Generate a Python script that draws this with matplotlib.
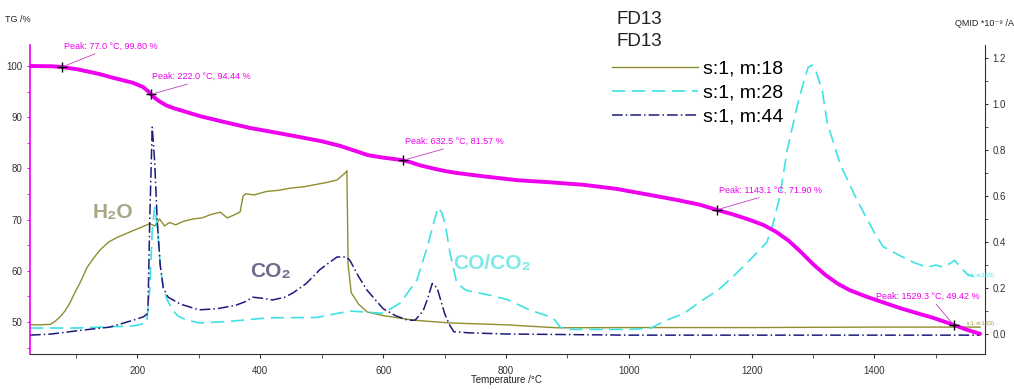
import matplotlib
matplotlib.use("Agg")
import matplotlib.pyplot as plt
from matplotlib.ticker import MultipleLocator

plt.rcParams['font.family'] = ['Liberation Sans', 'DejaVu Sans']

# TG curve (left axis, %)
tg_T = [25, 60, 77, 100, 120, 139, 160, 180, 193, 209, 218, 222, 230, 237, 247, 258, 280, 302, 340,
        383, 425, 465, 500, 530, 555, 575, 600, 620, 632.5, 645, 660, 681, 700, 720, 760, 818, 870,
        926, 980, 1035, 1080, 1116, 1143.1, 1170, 1198, 1220, 1240, 1260, 1280, 1300, 1320, 1340,
        1360, 1388, 1415, 1442, 1470, 1496, 1529.3, 1550, 1572]
tg_v = [100.0, 99.95, 99.8, 99.4, 98.9, 98.4, 97.7, 97.1, 96.7, 95.9, 95.0, 94.44, 93.6, 93.0, 92.3,
        91.8, 91.0, 90.2, 89.1, 87.9, 87.0, 86.1, 85.3, 84.4, 83.4, 82.6, 82.1, 81.8, 81.57, 81.2,
        80.6, 80.0, 79.5, 79.1, 78.5, 77.7, 77.3, 76.8, 76.0, 74.8, 73.8, 72.9, 71.9, 71.0, 69.9,
        68.9, 67.6, 65.9, 63.7, 61.3, 59.2, 57.5, 56.2, 54.9, 53.8, 52.7, 51.7, 50.8, 49.42, 48.5,
        47.7]

# peak markers
peak_T = [77.0, 222.0, 632.5, 1143.1, 1529.3]
peak_v = [99.80, 94.44, 81.57, 71.90, 49.42]

# MS ion currents (right axis)
m18_T = [25, 40, 58, 66, 74, 82, 90, 98, 106, 118, 130, 139, 153, 167, 180, 193, 207, 220, 228, 236,
         244, 252, 262, 275, 290, 305, 320, 335, 346, 355, 367, 372, 376, 390, 410, 430, 450, 470,
         490, 510, 525, 538, 541, 543, 548, 560, 574, 600, 650, 709, 800, 883, 1000, 1200, 1400, 1572]
m18_v = [0.04, 0.04, 0.042, 0.055, 0.075, 0.10, 0.135, 0.18, 0.22, 0.29, 0.335, 0.365, 0.40, 0.42,
         0.435, 0.45, 0.465, 0.48, 0.47, 0.50, 0.47, 0.485, 0.475, 0.49, 0.50, 0.505, 0.52, 0.53,
         0.505, 0.515, 0.53, 0.60, 0.61, 0.605, 0.62, 0.625, 0.635, 0.64, 0.65, 0.66, 0.67, 0.70,
         0.71, 0.30, 0.18, 0.13, 0.096, 0.08, 0.06, 0.048, 0.04, 0.027, 0.028, 0.028, 0.03, 0.03]

m28_T = [25, 100, 193, 215, 220, 224, 228, 233, 237, 242, 248, 256, 265, 280, 302, 350, 411, 492,
         546, 600, 628, 655, 672, 682, 689, 695, 701, 709, 720, 735, 753, 780, 802, 839, 872, 880,
         888, 900, 950, 1000, 1035, 1062, 1090, 1116, 1145, 1170, 1200, 1225, 1235, 1246, 1258, 1274,
         1285, 1292, 1299, 1305, 1315, 1323, 1344, 1372, 1398, 1414, 1442, 1465, 1486, 1500, 1512,
         1531, 1540, 1551, 1572]
m28_v = [0.026, 0.026, 0.035, 0.048, 0.2, 0.45, 0.55, 0.45, 0.3, 0.2, 0.15, 0.11, 0.08, 0.06, 0.048,
         0.055, 0.07, 0.072, 0.10, 0.09, 0.135, 0.235, 0.38, 0.48, 0.55, 0.53, 0.48, 0.35, 0.22, 0.19,
         0.18, 0.165, 0.15, 0.104, 0.075, 0.06, 0.03, 0.02, 0.02, 0.02, 0.025, 0.06, 0.09, 0.14, 0.19,
         0.25, 0.33, 0.40, 0.48, 0.60, 0.80, 0.99, 1.10, 1.16, 1.17, 1.14, 1.06, 0.92, 0.74, 0.58,
         0.45, 0.38, 0.34, 0.31, 0.29, 0.30, 0.29, 0.32, 0.29, 0.26, 0.24]

m44_T = [25, 60, 111, 155, 193, 210, 217, 220, 224, 228, 232, 237, 242, 250, 270, 300, 330, 360, 375,
         388, 405, 420, 440, 454, 475, 497, 512, 525, 540, 546, 560, 574, 600, 620, 640, 652, 665,
         672, 680, 688, 700, 708, 715, 740, 800, 1000, 1200, 1400, 1572]
m44_v = [-0.005, 0.0, 0.017, 0.03, 0.06, 0.075, 0.09, 0.5, 0.90, 0.75, 0.5, 0.3, 0.2, 0.16, 0.13,
         0.105, 0.11, 0.125, 0.14, 0.16, 0.155, 0.148, 0.16, 0.18, 0.22, 0.28, 0.31, 0.335, 0.335,
         0.32, 0.25, 0.19, 0.11, 0.08, 0.06, 0.06, 0.10, 0.15, 0.22, 0.20, 0.09, 0.04, 0.01, 0.005,
         0.0, -0.005, -0.005, -0.005, -0.005]

magenta = '#ee00ee'
fig = plt.figure(figsize=(10.14, 3.89), dpi=100)
ax1 = fig.add_axes([30/1014, 35/389, 955/1014, 309/389])
ax2 = ax1.twinx()
ax1.set_zorder(ax2.get_zorder() + 1)
ax1.patch.set_visible(False)

l18, = ax2.plot(m18_T, m18_v, color='#8e8e2e', lw=1.0, label='s:1, m:18')
l28, = ax2.plot(m28_T, m28_v, color='#3ee2e4', lw=1.2, linestyle=(0, (8, 4)), label='s:1, m:28')
l44, = ax2.plot(m44_T, m44_v, color='#1c1c78', lw=1.1, linestyle=(0, (7, 2, 1, 2)), label='s:1, m:44')

ax1.plot(tg_T, tg_v, color=magenta, lw=2.8, solid_capstyle='round', solid_joinstyle='round')
ax1.plot(peak_T, peak_v, '+', color='black', ms=7, mew=1.0)

offsets = [(2, 21), (1, 18), (2, 19), (2, 20), (-78, 29)]
rel = [0.42, 0.47, 0.5, 0.5, 0.55]
for t, v, off, r in zip(peak_T, peak_v, offsets, rel):
    ax1.annotate(f'Peak: {t:.1f} °C, {v:.2f} %', xy=(t, v), xytext=off, textcoords='offset pixels',
                 ha='left', va='center', fontsize=6.5, color=magenta,
                 arrowprops=dict(arrowstyle='-', color='#c040c0', lw=0.6, relpos=(r, 0),
                                 shrinkA=1, shrinkB=1))

ax1.set_xlim(25, 1580)
ax1.set_ylim(43.75, 104.1)
ax2.set_ylim(-0.087, 1.257)

ax1.xaxis.set_major_locator(MultipleLocator(200))
ax1.xaxis.set_minor_locator(MultipleLocator(100))
ax1.yaxis.set_major_locator(MultipleLocator(10))
ax1.yaxis.set_minor_locator(MultipleLocator(5))
ax2.yaxis.set_major_locator(MultipleLocator(0.2))
ax2.yaxis.set_minor_locator(MultipleLocator(0.1))
ax2.yaxis.set_major_formatter(plt.FormatStrFormatter('%.1f'))

for ax in (ax1, ax2):
    ax.spines['top'].set_visible(False)
ax1.spines['right'].set_visible(False)
ax2.spines['left'].set_visible(False)
ax2.spines['bottom'].set_visible(False)
ax1.spines['left'].set_color(magenta)
ax1.spines['left'].set_linewidth(1.2)
ax1.spines['bottom'].set_color('#333333')
ax2.spines['right'].set_color('#333333')

ax1.tick_params(axis='x', which='both', direction='out', labelsize=7, colors='#333333', length=3, pad=6)
ax1.tick_params(axis='y', which='both', direction='out', labelsize=7, labelcolor='#333333', color=magenta, length=2)
ax2.tick_params(axis='y', which='both', direction='out', labelsize=7, colors='#333333', length=2)

fig.text(5/1014, 1 - 20/389, 'TG /%', fontsize=6.5, color='#222222', va='center')
fig.text(955/1014, 1 - 24/389, 'QMID *10⁻⁹ /A', fontsize=6.5, color='#222222', va='center')
fig.text(506/1014, 1 - 380/389, 'Temperature /°C', fontsize=7, color='#222222', ha='center', va='center')

fig.text(617/1014, 1 - 20/389, 'FD13', fontsize=13.5, color='#222222', va='center')
fig.text(617/1014, 1 - 41/389, 'FD13', fontsize=13.5, color='#222222', va='center')
ax1.legend(handles=[l18, l28, l44], loc='upper left', bbox_to_anchor=(612/1014, 1 - 60/389),
           bbox_transform=fig.transFigure, frameon=False, fontsize=14, handlelength=4.4,
           handletextpad=0.3, labelspacing=0.33, borderpad=0, borderaxespad=0)

ax1.text(160, 71.3, 'H₂O', fontsize=15, fontweight='bold', color='#a7a785', ha='center', va='center')
ax1.text(416, 59.8, 'CO₂', fontsize=15, fontweight='bold', color='#6c6c8c', ha='center', va='center')
ax1.text(777, 61.5, 'CO/CO₂', fontsize=15, fontweight='bold', color='#7fe9ea', ha='center', va='center')

ax2.text(1550, 0.245, 's:1, m:28(S)', fontsize=3.5, color='#3ee2e4', va='bottom')
ax2.text(1550, 0.035, 's:1, m:18(S)', fontsize=3.5, color='#8e8e2e', va='bottom')

fig.savefig('out.png', dpi=100)
